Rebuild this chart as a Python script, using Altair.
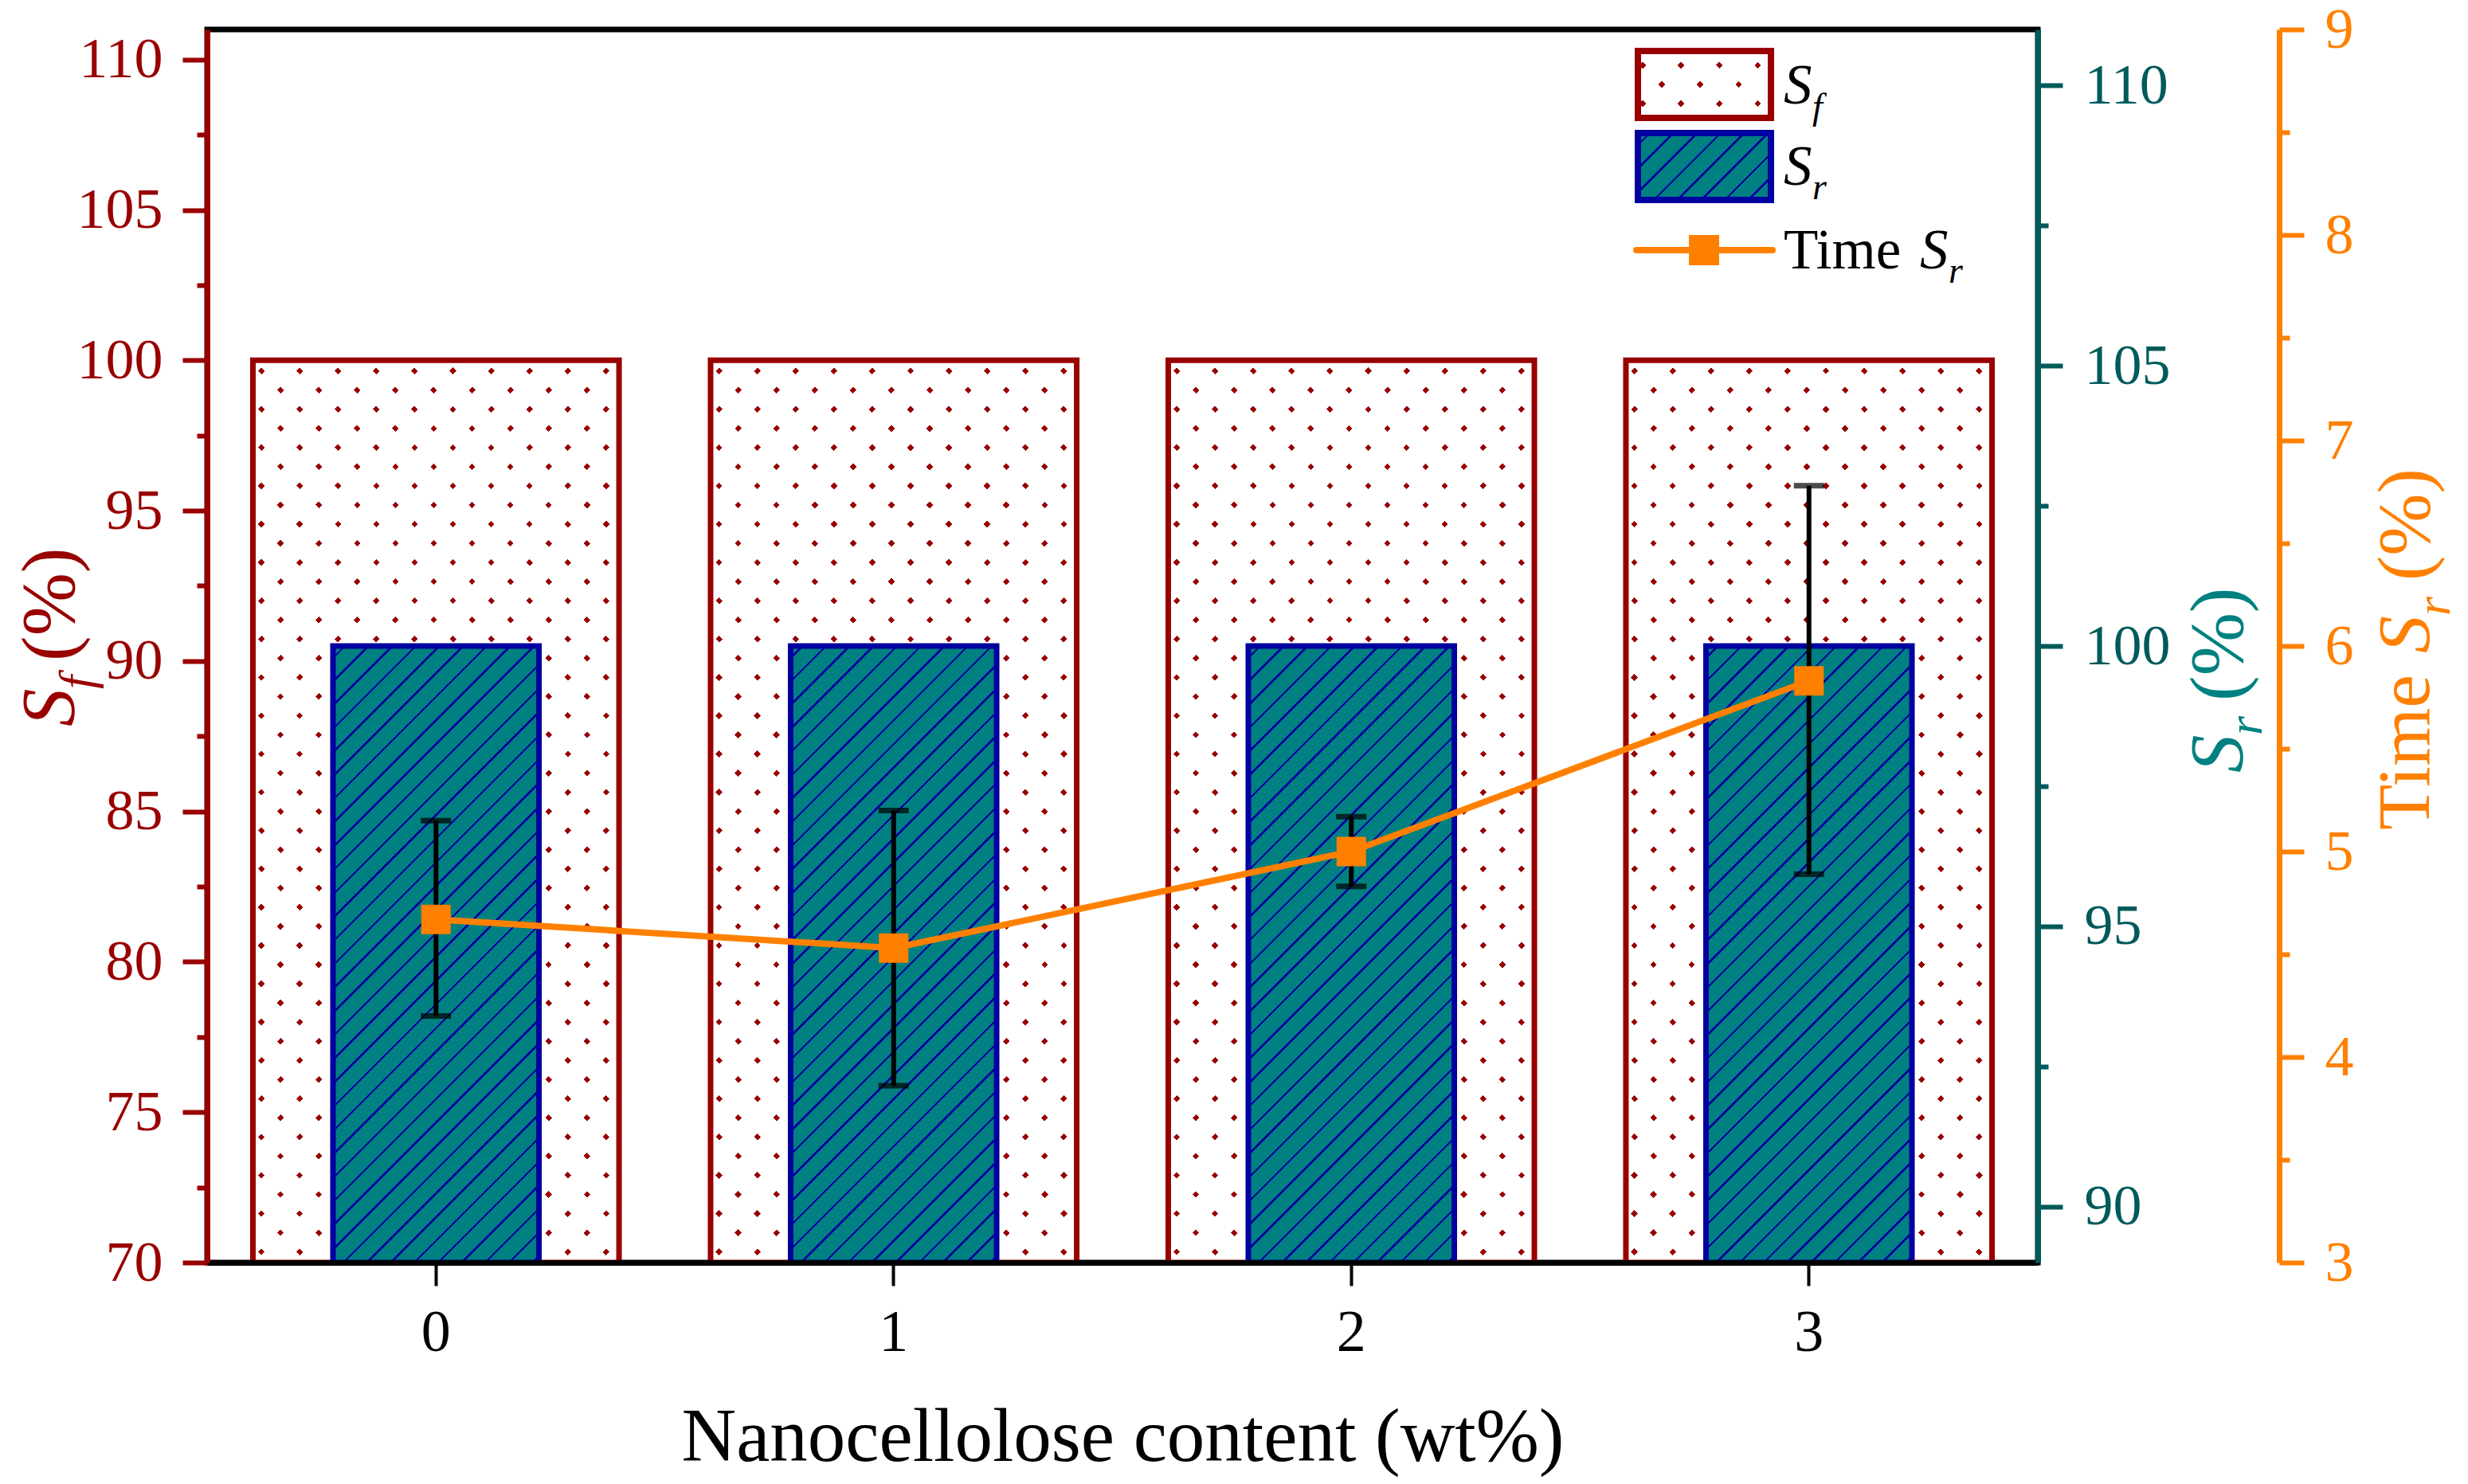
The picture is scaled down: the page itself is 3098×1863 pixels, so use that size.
import math
import pandas as pd
import altair as alt

# data
content = ["0", "1", "2", "3"]
sf = [100, 100, 100, 100]
sr = [100, 100, 100, 100]
time_sr = [4.67, 4.53, 5.00, 5.83]
time_lo = [4.20, 3.86, 4.83, 4.89]
time_hi = [5.15, 5.20, 5.17, 6.78]

df = pd.DataFrame({"content": content, "sf": sf, "sr": sr,
                   "time": time_sr, "lo": time_lo, "hi": time_hi})
one = pd.DataFrame({"k": [0]})

SERIF = "Liberation Serif"
RED = "#990000"
TEAL = "#008080"
TEAL_DARK = "#005A5A"
BLUE = "#0000A0"
ORANGE = "#FF8000"
CLEAR = "rgba(255,255,255,0)"

W, H = 2298, 1548
STEP = W / 4


def stripes(w, h, period, thick, bg, fg, direction):
    # 45 degree stripes as a hard-stop linear gradient (bbox units)
    r = h / w
    k = (1 + r) / (1 + r * r)
    span = (w + h) / math.sqrt(2)
    if direction == "/":
        x1, y1, x2, y2 = 0, 0, k, r * k
    else:
        x1, y1, x2, y2 = 0, 1, k, 1 - r * k
    stops = [alt.GradientStop(offset=0, color=bg)]
    pos = period / 2
    while pos < span:
        a = round(max(0.0, (pos - thick / 2) / span), 5)
        b = round(min(1.0, (pos + thick / 2) / span), 5)
        stops += [alt.GradientStop(offset=a, color=bg),
                  alt.GradientStop(offset=a, color=fg),
                  alt.GradientStop(offset=b, color=fg),
                  alt.GradientStop(offset=b, color=bg)]
        pos += period
    stops.append(alt.GradientStop(offset=1, color=bg))
    return alt.LinearGradient(gradient="linear", stops=stops,
                              x1=x1, y1=y1, x2=round(x2, 5), y2=round(y2, 5))


w_sf, h_sf = 0.8 * STEP, 30 / 41 * H
w_sr, h_sr = 0.45 * STEP, 11 / 22 * H

dots_under = stripes(w_sf, h_sf, 34, 6, "white", RED, "/")
dots_over = stripes(w_sf, h_sf, 34, 6, "white", CLEAR, "\\")
hatch = stripes(w_sr, h_sr, 21, 2.5, TEAL, BLUE, "/")

lg_dots_under = stripes(167, 84, 34, 6, "white", RED, "/")
lg_dots_over = stripes(167, 84, 34, 6, "white", CLEAR, "\\")
lg_hatch = stripes(167, 84, 21, 2.5, TEAL, BLUE, "/")


def minor_ticks(major):
    return {"condition": {"test": f"datum.value % {major} !== 0", "value": 13}, "value": 31}


def y_axis(color, values, major, orient, pad, offset=0):
    return alt.Axis(orient=orient, offset=offset, values=values, title=None, grid=False,
                    labelExpr=f"datum.value % {major} === 0 ? format(datum.value, 'd') : ''",
                    labelFont=SERIF, labelFontSize=72, labelColor=color, labelPadding=pad,
                    tickSize=minor_ticks(major), tickWidth=6, tickColor=color,
                    domainColor=color, domainWidth=7, zindex=1)


x_enc = alt.X("content:O", scale=alt.Scale(paddingInner=0, paddingOuter=0),
              axis=alt.Axis(title="Nanocellolose content (wt%)", labelAngle=0,
                            labelFont=SERIF, labelFontSize=74, labelColor="black",
                            labelPadding=23, tickSize=29, tickWidth=4, tickColor="black",
                            domainColor="black", domainWidth=7, grid=False,
                            titleFont=SERIF, titleFontSize=95, titleFontWeight="normal",
                            titleColor="black", titleY=248, titleBaseline="alphabetic",
                            zindex=1))

base = alt.Chart(df).encode(x=x_enc)

sf_axis = y_axis(RED, [70 + 2.5 * i for i in range(17)], 5, "left", 25)
sf_y = alt.Y("sf:Q", scale=alt.Scale(domain=[70, 111], zero=False, nice=False), axis=sf_axis)
sf_layer = alt.layer(
    base.mark_bar(width=alt.RelativeBandSize(0.8), fill=dots_under, strokeWidth=0)
        .encode(y=sf_y, y2=alt.datum(70)),
    base.mark_bar(width=alt.RelativeBandSize(0.8), fill=dots_over, stroke=RED, strokeWidth=7)
        .encode(y=sf_y, y2=alt.datum(70)),
)

sr_axis = y_axis(TEAL_DARK, [90 + 2.5 * i for i in range(9)], 5, "right", 27)
sr_layer = base.mark_bar(width=alt.RelativeBandSize(0.45), fill=hatch, stroke=BLUE, strokeWidth=7).encode(
    y=alt.Y("sr:Q", scale=alt.Scale(domain=[89, 111], zero=False, nice=False), axis=sr_axis),
    y2=alt.datum(89),
)

t_axis = y_axis(ORANGE, [3 + 0.5 * i for i in range(13)], 1, "right", 26, offset=303)
t_scale = alt.Scale(domain=[3, 9], zero=False, nice=False)
t_y = alt.Y("time:Q", scale=t_scale, axis=t_axis)
t_y_lo = alt.Y("lo:Q", scale=t_scale, axis=t_axis)
t_y_hi = alt.Y("hi:Q", scale=t_scale, axis=t_axis)
time_layer = alt.layer(
    base.mark_line(color=ORANGE, strokeWidth=8).encode(y=t_y),
    base.mark_rule(color="black", strokeWidth=6).encode(y=t_y_lo, y2="hi:Q"),
    base.mark_tick(color="black", size=38, thickness=7).encode(y=t_y_lo),
    base.mark_tick(color="black", size=38, thickness=7).encode(y=t_y_hi),
    base.mark_point(shape="square", filled=True, size=1369, color=ORANGE, opacity=1).encode(y=t_y),
)


def txt(s, x, y, size, color, angle=0, style="normal"):
    return alt.Chart(one).mark_text(text=s, x=x, y=y, fontSize=size, color=color, angle=angle,
                                    fontStyle=style, font=SERIF, align="left",
                                    baseline="alphabetic")


def swatch(fill, y0, stroke=None):
    props = {"fill": fill}
    if stroke:
        props.update(stroke=stroke, strokeWidth=8)
    else:
        props.update(strokeWidth=0)
    return alt.Chart(one).mark_rect(**props).encode(
        x=alt.value(1796), x2=alt.value(1963), y=alt.value(y0), y2=alt.value(y0 + 84))


legend = alt.layer(
    swatch(lg_dots_under, 27),
    swatch(lg_dots_over, 27, RED),
    swatch(lg_hatch, 130, BLUE),
    alt.Chart(one).mark_rule(color=ORANGE, strokeWidth=8, strokeCap="round").encode(
        x=alt.value(1794), x2=alt.value(1965), y=alt.value(277)),
    alt.Chart(one).mark_point(shape="square", filled=True, size=1444, color=ORANGE, opacity=1).encode(
        x=alt.value(1879), y=alt.value(277)),
    txt("S", 1979, 93, 71, "black", style="italic"),
    txt("f", 2015, 112, 46, "black", style="italic"),
    txt("S", 1979, 195, 71, "black", style="italic"),
    txt("r", 2015, 213, 46, "black", style="italic"),
    txt("Time", 1979, 300, 71, "black"),
    txt("S", 2150, 300, 71, "black", style="italic"),
    txt("r", 2186, 318, 46, "black", style="italic"),
)

titles = alt.layer(
    txt("S", -167, 875, 95, RED, 270, "italic"),
    txt("f", -143, 828, 62, RED, 270, "italic"),
    txt("(%)", -167, 793, 95, RED, 270),
    txt("S", 2555, 933, 95, TEAL, 270, "italic"),
    txt("r", 2579, 886, 62, TEAL, 270, "italic"),
    txt("(%)", 2555, 843, 95, TEAL, 270),
    txt("Time", 2789, 1005, 94, ORANGE, 270),
    txt("S", 2789, 783, 94, ORANGE, 270, "italic"),
    txt("r", 2815, 736, 62, ORANGE, 270, "italic"),
    txt("(%)", 2789, 692, 94, ORANGE, 270),
)

chart = alt.layer(sf_layer, sr_layer, time_layer, legend, titles).resolve_scale(
    y="independent"
).properties(
    width=W, height=H,
    autosize=alt.AutoSizeParams(type="none"),
    padding={"left": 252, "top": 29, "right": 532, "bottom": 270},
    background="white",
).configure_view(stroke="black", strokeWidth=7)

chart.save("out.html", embed_options={"renderer": "svg", "actions": False})
